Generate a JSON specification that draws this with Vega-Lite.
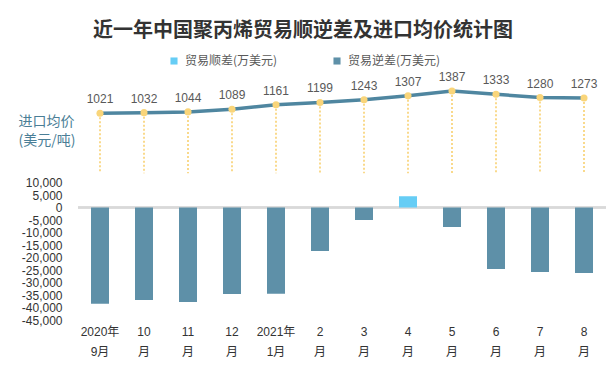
{
  "$schema": "https://vega.github.io/schema/vega-lite/v6.json",
  "width": 528,
  "height": 250,
  "autosize": {"type": "none"},
  "padding": {"left": 78, "top": 70, "right": 4, "bottom": 50},
  "background": "white",
  "title": {
    "text": "近一年中国聚丙烯贸易顺逆差及进口均价统计图",
    "font": "Noto Sans CJK SC",
    "fontSize": 20,
    "fontWeight": "bold",
    "color": "#333333",
    "anchor": "middle",
    "dx": -39,
    "offset": 14
  },
  "config": {
    "view": {"stroke": null},
    "font": "Noto Sans CJK SC"
  },
  "data": {
    "values": [
      {"月份": "2020年9月", "贸易差额": -38500, "类型": "贸易逆差(万美元)", "进口均价": 1021},
      {"月份": "10月", "贸易差额": -37000, "类型": "贸易逆差(万美元)", "进口均价": 1032},
      {"月份": "11月", "贸易差额": -37800, "类型": "贸易逆差(万美元)", "进口均价": 1044},
      {"月份": "12月", "贸易差额": -34600, "类型": "贸易逆差(万美元)", "进口均价": 1089},
      {"月份": "2021年1月", "贸易差额": -34500, "类型": "贸易逆差(万美元)", "进口均价": 1161},
      {"月份": "2月", "贸易差额": -17400, "类型": "贸易逆差(万美元)", "进口均价": 1199},
      {"月份": "3月", "贸易差额": -5000, "类型": "贸易逆差(万美元)", "进口均价": 1243},
      {"月份": "4月", "贸易差额": 4500, "类型": "贸易顺差(万美元)", "进口均价": 1307},
      {"月份": "5月", "贸易差额": -7800, "类型": "贸易逆差(万美元)", "进口均价": 1387},
      {"月份": "6月", "贸易差额": -24600, "类型": "贸易逆差(万美元)", "进口均价": 1333},
      {"月份": "7月", "贸易差额": -25800, "类型": "贸易逆差(万美元)", "进口均价": 1280},
      {"月份": "8月", "贸易差额": -26200, "类型": "贸易逆差(万美元)", "进口均价": 1273}
    ]
  },
  "encoding": {
    "x": {
      "field": "月份",
      "type": "nominal",
      "sort": null,
      "scale": {"paddingInner": 0, "paddingOuter": 0},
      "axis": {
        "title": null,
        "domain": false,
        "ticks": false,
        "labelAngle": 0,
        "labelPadding": 6,
        "labelFontSize": 12,
        "labelLineHeight": 20,
        "labelColor": "#333333",
        "labelFont": "Liberation Sans, Noto Sans CJK SC",
        "labelExpr": "datum.value == '2020年9月' ? ['2020年', '9月'] : datum.value == '2021年1月' ? ['2021年', '1月'] : [replace(datum.value, '月', ''), '月']"
      }
    }
  },
  "layer": [
    {
      "mark": {"type": "rule", "color": "#d9d9d9", "strokeWidth": 1.5},
      "encoding": {
        "x": null,
        "y": {"datum": 0, "type": "quantitative", "scale": {"domain": [-45000, 55000], "nice": false, "zero": false}, "axis": null}
      }
    },
    {
      "mark": {"type": "bar", "size": 18},
      "encoding": {
        "y": {
          "field": "贸易差额",
          "type": "quantitative",
          "scale": {"domain": [-45000, 55000], "nice": false},
          "axis": {
            "values": [10000, 5000, 0, -5000, -10000, -15000, -20000, -25000, -30000, -35000, -40000, -45000],
            "labelExpr": "replace(format(datum.value, ','), '−', '-')",
            "grid": false,
            "domain": false,
            "ticks": false,
            "labelPadding": 16,
            "labelFontSize": 12,
            "labelColor": "#333333",
            "labelFont": "Liberation Sans",
            "labelOverlap": false,
            "title": ["进口均价", "(美元/吨)"],
            "titleAngle": 0,
            "titleAlign": "left",
            "titleBaseline": "top",
            "titleX": -60,
            "titleY": 44,
            "titleFontSize": 14,
            "titleFontWeight": "normal",
            "titleColor": "#4a7e96",
            "titleLineHeight": 19,
            "titleFont": "Noto Sans CJK SC"
          }
        },
        "color": {
          "field": "类型",
          "type": "nominal",
          "scale": {"domain": ["贸易顺差(万美元)", "贸易逆差(万美元)"], "range": ["#66cdf5", "#5e90a8"]},
          "legend": {
            "orient": "none",
            "legendX": 90,
            "legendY": -15,
            "direction": "horizontal",
            "title": null,
            "symbolType": "square",
            "symbolSize": 50,
            "symbolStrokeWidth": 0,
            "labelFontSize": 12,
            "labelColor": "#595959",
            "labelOffset": 5,
            "columnPadding": 53,
            "labelFont": "Noto Sans CJK SC"
          }
        }
      }
    },
    {
      "mark": {"type": "rule", "color": "#f9d680", "strokeWidth": 1.8, "strokeDash": [2, 2]},
      "encoding": {
        "y": {"field": "进口均价", "type": "quantitative", "scale": {"domain": [-2367, 1731], "nice": false, "zero": false}, "axis": null},
        "y2": {"datum": 40}
      }
    },
    {
      "mark": {"type": "line", "color": "#4f86a0", "strokeWidth": 3.5},
      "encoding": {
        "y": {"field": "进口均价", "type": "quantitative", "scale": {"domain": [-2367, 1731], "nice": false, "zero": false}, "axis": null}
      }
    },
    {
      "mark": {"type": "point", "filled": true, "color": "#f9d57a", "size": 50, "opacity": 1},
      "encoding": {
        "y": {"field": "进口均价", "type": "quantitative", "scale": {"domain": [-2367, 1731], "nice": false, "zero": false}, "axis": null}
      }
    },
    {
      "mark": {"type": "text", "dy": -14, "fontSize": 12, "color": "#595959", "font": "Liberation Sans", "baseline": "middle"},
      "encoding": {
        "y": {"field": "进口均价", "type": "quantitative", "scale": {"domain": [-2367, 1731], "nice": false, "zero": false}, "axis": null},
        "text": {"field": "进口均价", "type": "quantitative", "format": "d"}
      }
    }
  ],
  "resolve": {"scale": {"y": "independent"}}
}
